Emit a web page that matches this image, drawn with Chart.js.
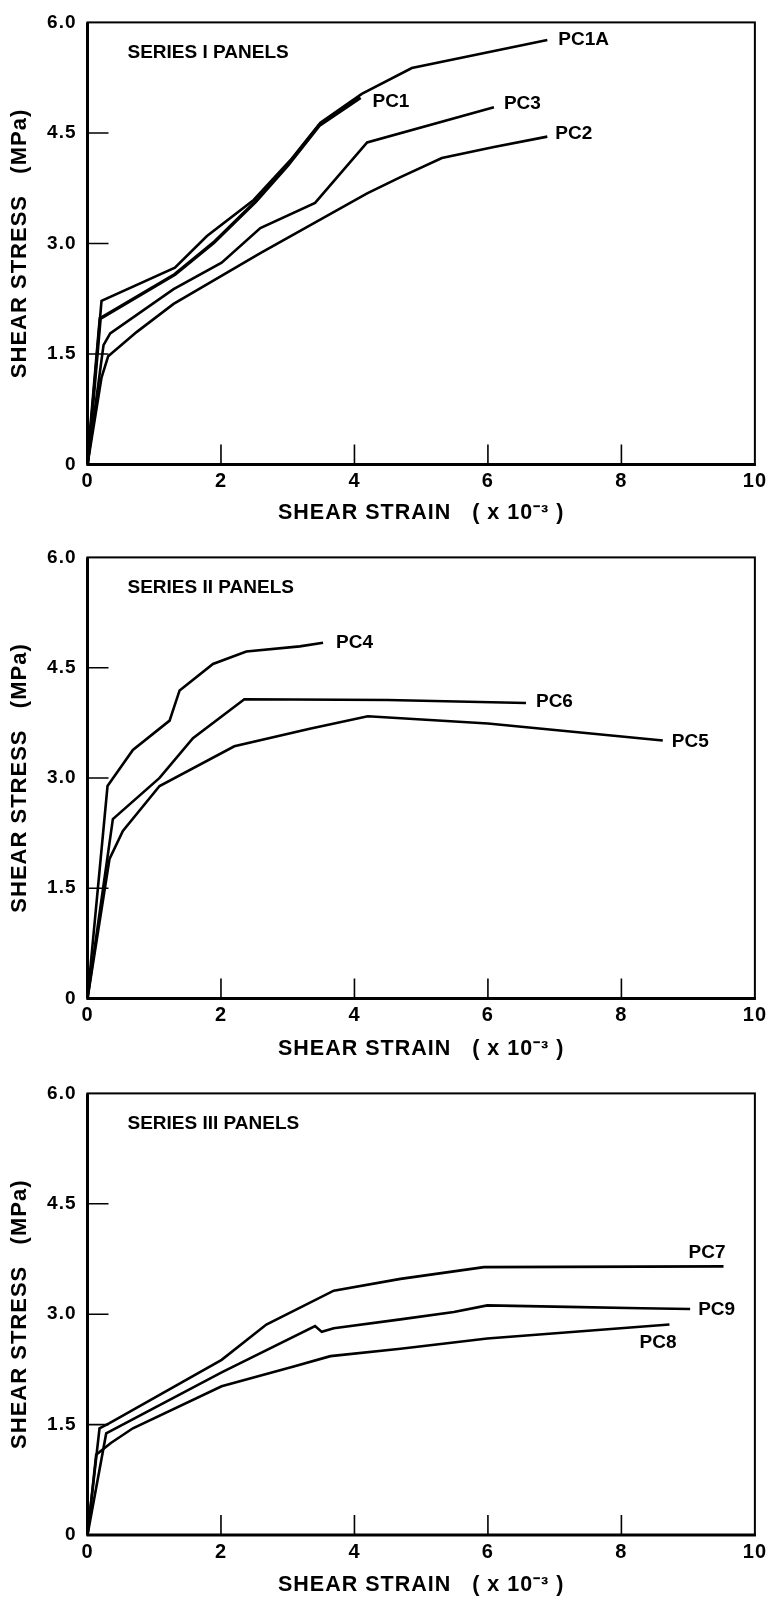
<!DOCTYPE html>
<html lang="en">
<head>
<meta charset="UTF-8">
<title>Shear stress - shear strain, Series I-III panels</title>
<script src="https://cdn.jsdelivr.net/npm/chart.js"></script>
<style>
  html, body { margin: 0; padding: 0; background: #fff; }
  #wrap { position: relative; width: 771px; height: 1601px; overflow: hidden; }
  canvas { position: absolute; left: 0; }
</style>
</head>
<body>
<div id="wrap">
  <canvas id="panel1" width="771" height="534" style="top:0px"></canvas>
  <canvas id="panel2" width="771" height="534" style="top:535px"></canvas>
  <canvas id="panel3" width="771" height="530" style="top:1071px"></canvas>
</div>

<script>
// axis ticks
const strainTicks = [0, 2, 4, 6, 8, 10];
const stressTicks = [0, 1.5, 3.0, 4.5, 6.0];
const innerStrainTicks = [2, 4, 6, 8];
const innerStressTicks = [1.5, 3.0, 4.5];

// Series I panels
const pc1aStrain = [0, 0.21, 1.31, 1.79, 2.49, 3.04, 3.49, 4.11, 4.86, 6.89];
const pc1aStress = [0, 2.22, 2.67, 3.10, 3.59, 4.13, 4.64, 5.03, 5.38, 5.76];
const pc1Strain  = [0, 0.19, 1.31, 1.89, 2.52, 3.00, 3.47, 4.09];
const pc1Stress  = [0, 1.98, 2.58, 3.01, 3.57, 4.06, 4.60, 4.98];
const pc3Strain  = [0, 0.24, 0.34, 1.29, 2.01, 2.59, 3.41, 4.19, 6.09];
const pc3Stress  = [0, 1.62, 1.78, 2.38, 2.74, 3.21, 3.55, 4.37, 4.85];
const pc2Strain  = [0, 0.21, 0.31, 0.74, 1.29, 2.59, 4.19, 4.69, 5.31, 6.09, 6.89];
const pc2Stress  = [0, 1.18, 1.47, 1.80, 2.18, 2.87, 3.68, 3.90, 4.16, 4.31, 4.45];

// Series II panels
const pc4Strain = [0, 0.30, 0.68, 1.23, 1.38, 1.88, 2.38, 3.18, 3.53];
const pc4Stress = [0, 2.89, 3.38, 3.78, 4.19, 4.55, 4.72, 4.79, 4.84];
const pc6Strain = [0, 0.38, 1.08, 1.58, 2.35, 4.50, 6.57];
const pc6Stress = [0, 2.44, 3.00, 3.54, 4.07, 4.06, 4.02];
const pc5Strain = [0, 0.33, 0.53, 1.08, 2.20, 3.33, 4.20, 6.00, 8.62];
const pc5Stress = [0, 1.90, 2.28, 2.89, 3.43, 3.67, 3.84, 3.74, 3.51];

// Series III panels
const pc7Strain = [0, 0.18, 0.33, 2.01, 2.68, 3.69, 4.69, 5.94, 9.53];
const pc7Stress = [0, 1.45, 1.52, 2.38, 2.86, 3.32, 3.48, 3.64, 3.65];
const pc9Strain = [0, 0.28, 2.01, 3.41, 3.51, 3.69, 4.69, 5.49, 5.99, 7.19, 8.30, 9.03];
const pc9Stress = [0, 1.38, 2.21, 2.84, 2.76, 2.81, 2.93, 3.03, 3.12, 3.10, 3.08, 3.07];
const pc8Strain = [0, 0.13, 0.35, 0.68, 2.01, 3.09, 3.64, 4.69, 5.99, 8.72];
const pc8Stress = [0, 1.09, 1.25, 1.45, 2.02, 2.29, 2.43, 2.53, 2.67, 2.86];

const FONT = "'Liberation Sans', Arial, Helvetica, sans-serif";

function pts(xs, ys) {
    return xs.map((x, i) => ({ x: x, y: ys[i] }));
}

// one curve; the label is drawn next to its last point
function curve(label, xs, ys, dx, dy, align, width) {
    return {
        label: label,
        data: pts(xs, ys),
        borderColor: '#000',
        borderWidth: width || 2.6,
        pointRadius: 0,
        tension: 0,
        fill: false,
        labelDx: dx,
        labelDy: dy,
        labelAlign: align
    };
}

// frame, inward ticks, caption and curve labels
const panelDecor = {
    id: 'panelDecor',
    beforeDraw(chart) {
        // the typeset axis text is spaced a little wider
        chart.ctx.letterSpacing = '1px';
    },
    afterDatasetsDraw(chart, args, opts) {
        const { ctx, chartArea: a, scales: { x, y } } = chart;
        ctx.save();
        ctx.letterSpacing = '0px';
        ctx.strokeStyle = '#000';
        ctx.lineWidth = 2;
        ctx.strokeRect(a.left, a.top, a.right - a.left, a.bottom - a.top);
        ctx.lineWidth = 3;
        ctx.beginPath();
        ctx.moveTo(a.left - 1, a.bottom);
        ctx.lineTo(a.right + 1, a.bottom);
        ctx.moveTo(a.left, a.top);
        ctx.lineTo(a.left, a.bottom);
        ctx.stroke();

        ctx.lineWidth = 1.6;
        ctx.beginPath();
        innerStrainTicks.forEach(v => {
            const px = x.getPixelForValue(v);
            ctx.moveTo(px, a.bottom);
            ctx.lineTo(px, a.bottom - 20);
        });
        innerStressTicks.forEach(v => {
            const py = y.getPixelForValue(v);
            ctx.moveTo(a.left, py);
            ctx.lineTo(a.left + 21, py);
        });
        ctx.stroke();

        ctx.fillStyle = '#000';
        ctx.textBaseline = 'middle';
        ctx.textAlign = 'left';
        ctx.font = 'bold 19px ' + FONT;
        ctx.fillText(opts.caption, a.left + 40, a.top + 30);

        chart.data.datasets.forEach(ds => {
            const last = ds.data[ds.data.length - 1];
            ctx.textAlign = ds.labelAlign;
            ctx.fillText(ds.label,
                x.getPixelForValue(last.x) + ds.labelDx,
                y.getPixelForValue(last.y) + ds.labelDy);
        });
        ctx.restore();
    }
};

function makePanel(id, caption, datasets, xAxisHeight, titlePad) {
    const ctx = document.getElementById(id).getContext('2d');
    return new Chart(ctx, {
        type: 'line',
        data: { datasets: datasets },
        options: {
            responsive: false,
            animation: false,
            layout: { padding: { top: 17, right: 16, left: 0, bottom: 0 } },
            plugins: {
                legend: { display: false },
                tooltip: { enabled: false },
                panelDecor: { caption: caption }
            },
            scales: {
                x: {
                    type: 'linear',
                    min: 0,
                    max: 10,
                    afterBuildTicks: s => { s.ticks = strainTicks.map(v => ({ value: v })); },
                    afterFit: s => { s.height = xAxisHeight; },
                    grid: { display: false, drawTicks: false },
                    border: { display: false },
                    ticks: {
                        color: '#000',
                        padding: 5,
                        maxRotation: 0,
                        autoSkip: false,
                        font: { family: FONT, size: 20, weight: 'bold' }
                    },
                    title: {
                        display: true,
                        text: 'SHEAR STRAIN   ( x 10\u207B\u00B3 )',
                        color: '#000',
                        padding: { top: 0, bottom: titlePad },
                        font: { family: FONT, size: 21.5, weight: 'bold' }
                    }
                },
                y: {
                    min: 0,
                    max: 6,
                    afterBuildTicks: s => { s.ticks = stressTicks.map(v => ({ value: v })); },
                    afterFit: s => { s.width = 87.5; },
                    grid: { display: false, drawTicks: false },
                    border: { display: false },
                    ticks: {
                        color: '#000',
                        padding: 11,
                        font: { family: FONT, size: 19, weight: 'bold' },
                        callback: v => v === 0 ? '0' : v.toFixed(1)
                    },
                    title: {
                        display: true,
                        text: 'SHEAR STRESS   (MPa)',
                        color: '#000',
                        padding: { top: 7, bottom: 0 },
                        font: { family: FONT, size: 22, weight: 'bold' }
                    }
                }
            }
        },
        plugins: [panelDecor]
    });
}

makePanel('panel1', 'SERIES I PANELS', [
    curve('PC1A', pc1aStrain, pc1aStress, 11, 0, 'left'),
    curve('PC1', pc1Strain, pc1Stress, 12, 4, 'left', 3.5),
    curve('PC3', pc3Strain, pc3Stress, 10, -3, 'left'),
    curve('PC2', pc2Strain, pc2Stress, 8, -3, 'left')
], 69.5, 8.5);

makePanel('panel2', 'SERIES II PANELS', [
    curve('PC4', pc4Strain, pc4Stress, 13, 0, 'left'),
    curve('PC6', pc6Strain, pc6Stress, 10, -1, 'left'),
    curve('PC5', pc5Strain, pc5Stress, 9, 1, 'left')
], 70.5, 7.5);

makePanel('panel3', 'SERIES III PANELS', [
    curve('PC7', pc7Strain, pc7Stress, 2, -14, 'right'),
    curve('PC9', pc9Strain, pc9Stress, 8, 1, 'left'),
    curve('PC8', pc8Strain, pc8Stress, 7, 18, 'right')
], 66, 3.5);
</script>
</body>
</html>
